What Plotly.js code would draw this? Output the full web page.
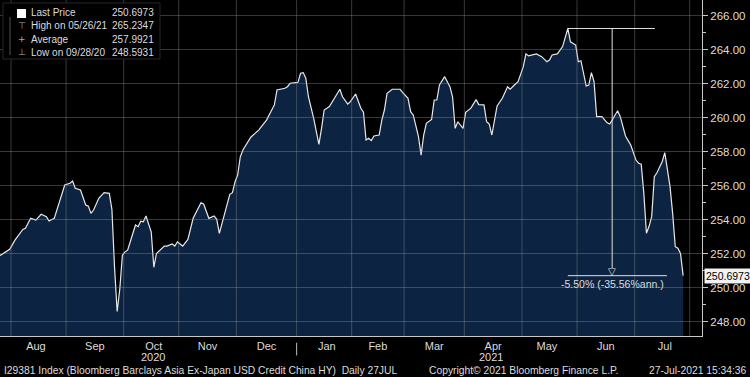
<!DOCTYPE html>
<html>
<head>
<meta charset="utf-8">
<script src="https://cdn.plot.ly/plotly-3.0.1.min.js"></script>
<style>html,body{margin:0;padding:0;background:#000;}#chart{width:750px;height:377px;}</style>
</head>
<body>
<div id="chart"></div>
<script>
// ---- data ----
const dates = [
'2020-07-27','2020-07-28','2020-07-31','2020-08-04','2020-08-07','2020-08-10','2020-08-12','2020-08-14','2020-08-18','2020-08-20','2020-08-21','2020-08-25','2020-08-27','2020-08-31',
'2020-09-02','2020-09-03','2020-09-04','2020-09-08','2020-09-10','2020-09-11','2020-09-14','2020-09-15','2020-09-17','2020-09-21','2020-09-23','2020-09-24','2020-09-25','2020-09-28','2020-09-29','2020-09-30',
'2020-10-01','2020-10-02','2020-10-05','2020-10-07','2020-10-08','2020-10-09','2020-10-12','2020-10-13','2020-10-15','2020-10-16','2020-10-19','2020-10-20','2020-10-22','2020-10-23','2020-10-27','2020-10-28','2020-10-29',
'2020-11-02','2020-11-04','2020-11-06','2020-11-11','2020-11-12','2020-11-16','2020-11-18','2020-11-19','2020-11-20','2020-11-24','2020-11-26','2020-11-27','2020-11-30',
'2020-12-01','2020-12-02','2020-12-03','2020-12-08','2020-12-11','2020-12-16','2020-12-21','2020-12-22','2020-12-25','2020-12-28','2020-12-29',
'2021-01-01','2021-01-04','2021-01-05','2021-01-06','2021-01-07','2021-01-11','2021-01-12','2021-01-13','2021-01-14','2021-01-15','2021-01-19','2021-01-21','2021-01-25','2021-01-26','2021-01-28','2021-01-29',
'2021-02-02','2021-02-04','2021-02-05','2021-02-08','2021-02-09','2021-02-10','2021-02-11','2021-02-15','2021-02-16','2021-02-17','2021-02-18','2021-02-22','2021-02-25','2021-02-26',
'2021-03-02','2021-03-03','2021-03-04','2021-03-08','2021-03-09','2021-03-10','2021-03-11','2021-03-15','2021-03-16','2021-03-17','2021-03-18','2021-03-22','2021-03-24','2021-03-25','2021-03-26','2021-03-29','2021-03-31',
'2021-04-01','2021-04-05','2021-04-07','2021-04-08','2021-04-12','2021-04-13','2021-04-14','2021-04-15','2021-04-19','2021-04-21','2021-04-23','2021-04-26','2021-04-28','2021-04-29',
'2021-05-03','2021-05-04','2021-05-05','2021-05-10','2021-05-12','2021-05-14','2021-05-17','2021-05-18','2021-05-20','2021-05-24','2021-05-26','2021-05-27','2021-05-31',
'2021-06-01','2021-06-02','2021-06-04','2021-06-07','2021-06-08','2021-06-09','2021-06-10','2021-06-14','2021-06-16','2021-06-17','2021-06-21','2021-06-22','2021-06-23','2021-06-25','2021-06-28','2021-06-29',
'2021-07-01','2021-07-02','2021-07-05','2021-07-06','2021-07-07','2021-07-08','2021-07-09','2021-07-12','2021-07-13','2021-07-15','2021-07-16','2021-07-20','2021-07-21','2021-07-22','2021-07-23','2021-07-26','2021-07-27'
];
const prices = [
251.85,251.95,252.25,252.79,253.42,253.48,254.07,253.97,254.31,254.17,253.91,254.07,255.05,256.03,
256.13,256.26,255.84,255.74,254.85,254.79,254.36,254.56,255.25,255.58,255.54,254.6,251.2,248.5931,249.9,251.9,
252.1,252.2,252.69,253.68,253.58,253.9,253.87,254.21,253.28,251.19,252.0,252.15,252.44,252.44,252.56,252.44,252.69,
252.44,252.83,254.07,254.99,254.91,254.07,254.21,254.01,253.19,254.26,255.48,255.58,256.22,
256.62,257.69,258.09,258.84,259.26,259.85,260.74,261.62,261.72,261.81,262.01,
262.07,262.6,262.64,262.31,261.22,259.95,259.26,258.42,259.36,260.44,260.64,261.13,261.66,261.22,260.79,260.93,
261.38,260.54,260.31,258.68,258.78,258.64,258.91,258.97,259.85,260.44,261.42,261.66,261.66,261.46,
261.13,260.34,260.15,258.87,257.79,258.97,259.66,259.89,261.03,261.03,261.91,262.4,261.81,261.22,259.36,259.75,259.36,
260.3,260.55,261.05,260.76,260.74,259.75,259.62,258.97,260.68,261.13,261.81,261.66,261.97,262.11,
262.99,263.74,263.62,263.74,263.58,263.28,263.38,263.68,263.74,264.17,265.2347,264.45,264.26,
263.28,263.34,261.85,261.91,262.64,262.11,260.05,260.05,259.69,259.62,260.15,260.4,260.05,258.91,258.64,258.38,
257.5,257.31,257.26,255.54,253.19,253.6,254.17,256.52,256.75,257.4,257.93,255.93,254.36,252.4,252.31,252.0,250.6973
];
const legendLabels = ['Last Price', 'High on 05/26/21', 'Average', 'Low on 09/28/20'];
const legendValues = ['250.6973', '265.2347', '257.9921', '248.5931'];
const lastPrice = 250.6973;
const highPrice = 265.2347;
const highDate = '2021-05-26 12:00';
const changeText = '-5.50% (-35.56%ann.)';
const yTickVals = [248, 250, 252, 254, 256, 258, 260, 262, 264, 266];
const monthStarts = ['2020-08-01','2020-09-01','2020-10-01','2020-11-01','2020-12-01','2021-01-01','2021-02-01','2021-03-01','2021-04-01','2021-05-01','2021-06-01','2021-07-01','2021-08-01'];
const yearLabels = ['2020', '2021'];
const yearDates = ['2020-10-16', '2021-04-15'];
const footerLeft = 'I29381 Index (Bloomberg Barclays Asia Ex-Japan USD Credit China HY)  Daily 27JUL';
const footerMid = 'Copyright\u00a9 2021 Bloomberg Finance L.P.';
const footerRight = '27-Jul-2021 15:34:36';

// ---- layout helpers ----
const FONT = 'Liberation Sans, Arial, sans-serif';
const TXT = '#dcdcdc';
const GRID = 'rgba(150,150,150,0.38)';
const X0 = '2020-07-27 19:00', X1 = '2021-08-05 16:48';
const Y0 = 247.15, Y1 = 266.91;
const PW = 702, PH = 336; // plot area px
const px = v => v / PW;
const py = v => 1 - v / PH;

const trace = {
  x: dates.map(d => d + ' 12:00'),
  y: prices,
  type: 'scatter',
  mode: 'lines',
  line: {color: '#e8e8e8', width: 1.2},
  fill: 'tozeroy',
  fillcolor: '#0c2442',
  hoverinfo: 'skip'
};

const arrowX = '2021-06-18 10:00';
const topEnd = '2021-07-12 17:00';
const botEnd = '2021-07-19 07:00';

const shapes = [];
// faint grid lines (drawn over the area, as in the reference)
yTickVals.forEach(v => shapes.push({type:'line', xref:'x', yref:'y', x0:X0, x1:X1, y0:v, y1:v,
  line:{color:GRID, width:1}}));
monthStarts.forEach(d => shapes.push({type:'line', xref:'x', yref:'y', x0:d, x1:d, y0:Y0, y1:Y1,
  line:{color:GRID, width:1}}));
shapes.push(
  // legend box
  {type:'rect', xref:'paper', yref:'paper', x0:px(3), x1:px(160), y0:py(59), y1:py(3),
   fillcolor:'#000', line:{color:'#262626', width:1}},
  {type:'rect', xref:'paper', yref:'paper', x0:px(17), x1:px(26), y0:py(18), y1:py(9),
   fillcolor:'#fff', line:{width:0}},
  {type:'line', xref:'paper', yref:'paper', x0:px(10), x1:px(10), y0:py(55), y1:py(17),
   line:{color:'#555', width:1}},
  // high -> last drawdown markers
  {type:'line', xref:'x', yref:'y', x0:highDate, x1:topEnd, y0:highPrice, y1:highPrice,
   line:{color:'#e0e0e0', width:1}},
  {type:'line', xref:'x', yref:'y', x0:arrowX, x1:arrowX, y0:highPrice, y1:lastPrice + 0.45,
   line:{color:'#e0e0e0', width:1}},
  {type:'line', xref:'x', yref:'y', x0:highDate, x1:botEnd, y0:lastPrice, y1:lastPrice,
   line:{color:'#e0e0e0', width:1}},
  // year separator
  {type:'line', xref:'x', yref:'paper', x0:'2021-01-01', x1:'2021-01-01', y0:-0.02, y1:-0.058,
   line:{color:'#bbb', width:1}}
);

const annotations = [];
legendLabels.forEach((t, i) => {
  const yy = py(13 + i * 13);
  annotations.push({xref:'paper', yref:'paper', x:px(29), y:yy, xanchor:'left', yanchor:'middle',
    text:t, showarrow:false, font:{family:FONT, size:10, color:TXT}});
  annotations.push({xref:'paper', yref:'paper', x:px(156), y:yy, xanchor:'right', yanchor:'middle',
    text:legendValues[i], showarrow:false, font:{family:FONT, size:10, color:TXT}});
});
['\u22a4', '+', '\u22a5'].forEach((g, i) => {
  annotations.push({xref:'paper', yref:'paper', x:px(21.5), y:py(26 + i * 13), xanchor:'center', yanchor:'middle',
    text:g, showarrow:false, font:{family:'DejaVu Sans', size:9, color:'#aaa'}});
});
annotations.push({xref:'x', yref:'y', x:arrowX, y:lastPrice, yanchor:'bottom', xanchor:'center',
  text:'\u25bd', showarrow:false, yshift:-3, font:{family:'DejaVu Sans', size:10, color:'#e0e0e0'}});
annotations.push({xref:'x', yref:'y', x:arrowX, y:lastPrice, yanchor:'top', xanchor:'center',
  text:changeText, showarrow:false, yshift:0, font:{family:FONT, size:10.5, color:TXT}});
annotations.push({xref:'paper', yref:'y', x:1, y:lastPrice, xanchor:'left', yanchor:'middle',
  text:String(lastPrice), showarrow:false, xshift:2, bgcolor:'#f2f2f2', borderpad:1,
  font:{family:FONT, size:10.5, color:'#000'}});
yearLabels.forEach((t, i) => {
  annotations.push({xref:'x', yref:'paper', x:yearDates[i], y:py(357), xanchor:'center', yanchor:'middle',
    text:t, showarrow:false, font:{family:FONT, size:11, color:TXT}});
});
annotations.push({xref:'paper', yref:'paper', x:px(2), y:py(370), xanchor:'left', yanchor:'middle',
  text:footerLeft, showarrow:false, font:{family:FONT, size:10.3, color:TXT}});
annotations.push({xref:'paper', yref:'paper', x:px(427), y:py(370), xanchor:'left', yanchor:'middle',
  text:footerMid, showarrow:false, font:{family:FONT, size:10.3, color:TXT}});
annotations.push({xref:'paper', yref:'paper', x:px(749), y:py(370), xanchor:'right', yanchor:'middle',
  text:footerRight, showarrow:false, font:{family:FONT, size:10.3, color:TXT}});

const layout = {
  width: 750, height: 377,
  margin: {l:0, r:48, t:0, b:41, pad:0},
  paper_bgcolor: '#000', plot_bgcolor: '#000',
  showlegend: false,
  font: {family: FONT, color: TXT, size: 11},
  xaxis: {
    type: 'date',
    range: [X0, X1],
    rangebreaks: [{bounds: ['sat', 'mon']}],
    tick0: '2020-08-01', dtick: 'M1',
    tickformat: '%b', ticklabelmode: 'period',
    showgrid: false,
    showline: true, linecolor: '#c8c8c8', linewidth: 1,
    ticks: '', zeroline: false,
    tickfont: {family: FONT, size: 11, color: TXT},
    fixedrange: true
  },
  yaxis: {
    side: 'right',
    range: [Y0, Y1],
    tickvals: yTickVals, tickformat: '.2f',
    showgrid: false,
    showline: true, linecolor: '#c8c8c8', linewidth: 1,
    ticks: 'outside', ticklen: 5, tickcolor: '#c8c8c8',
    minor: {dtick: 1, tick0: 0, ticks: 'outside', ticklen: 3, tickcolor: '#c8c8c8', showgrid: false},
    zeroline: false,
    tickfont: {family: FONT, size: 11.5, color: TXT},
    fixedrange: true
  },
  shapes: shapes,
  annotations: annotations
};

Plotly.newPlot('chart', [trace], layout, {staticPlot: true, displayModeBar: false});
</script>
</body>
</html>
